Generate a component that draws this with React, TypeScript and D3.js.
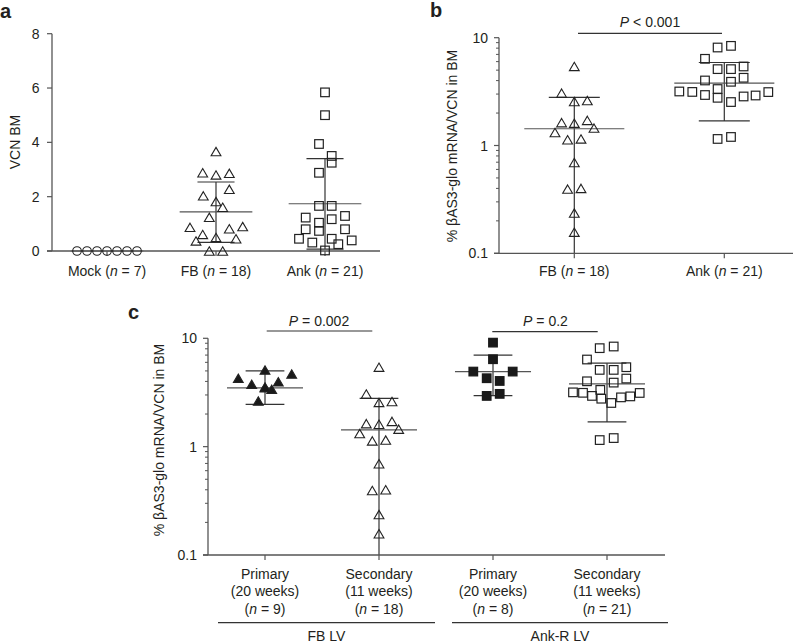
import React from "react";
import * as d3 from "d3";

// ---------- DATA ----------
// Panel a: VCN in bone marrow
const panelACategories = ["Mock", "FB", "Ank"];
const panelANs = [7, 18, 21];
const mockVCN = [0, 0, 0, 0, 0, 0, 0];
const fbVCN = [3.66, 2.88, 2.8, 2.86, 2.27, 2.03, 1.82, 1.61, 1.24, 0.87, 0.82, 0.9, 0.61, 0.37, 0.5, 0.45, 0, 0];
const ankVCN = [5.84, 5.0, 3.94, 3.5, 3.25, 2.88, 1.66, 1.66, 1.23, 1.04, 1.17, 1.29, 0.8, 0.74, 0.8, 0.45, 0.31, 0.45, 0.25, 0.39, 0.02];
const panelAMeans = [0, 1.44, 1.74];
const panelASdLow = [0, 0.32, 0.07];
const panelASdHigh = [0, 2.54, 3.4];
const panelATicks = [0, 2, 4, 6, 8];

// Panel b: % βAS3-glo mRNA / VCN
const panelBCategories = ["FB", "Ank"];
const panelBNs = [18, 21];
const fbRatio = [5.41, 3.06, 2.56, 2.61, 1.63, 1.61, 1.71, 1.45, 1.32, 1.13, 1.15, 0.695, 0.394, 0.4, 0.236, 0.157];
const ankRatio = [8.11, 8.4, 6.37, 5.11, 5.11, 5.41, 4.01, 3.9, 4.25, 3.17, 3.14, 2.94, 3.34, 2.77, 2.53, 2.85, 2.91, 3.13, 1.15, 1.2];
const panelBMeans = [1.43, 3.79];
const panelBSdLow = [0.07, 1.69];
const panelBSdHigh = [2.79, 5.89];
const panelBPLabel = "< 0.001";

// Panel c
const panelCCategories = ["FB-Primary", "FB-Secondary", "Ank-Primary", "Ank-Secondary"];
const panelCLine1 = ["Primary", "Secondary", "Primary", "Secondary"];
const panelCLine2 = ["(20 weeks)", "(11 weeks)", "(20 weeks)", "(11 weeks)"];
const panelCNs = [9, 18, 8, 21];
const panelCGroups = ["FB LV", "Ank-R LV"];
const fbPrimary = [4.27, 5.09, 4.68, 3.76, 3.97, 3.5, 3.38, 2.64, 3.55];
const ankPrimary = [9.12, 6.41, 4.93, 4.93, 4.28, 4.04, 2.94, 3.07];
const panelCMeans = [3.48, 1.43, 4.93, 3.79];
const panelCSdLow = [2.46, 0.07, 2.96, 1.69];
const panelCSdHigh = [5.0, 2.79, 6.98, 5.89];
const panelCPLabels = ["= 0.002", "= 0.2"];

// ---------- LAYOUT (jitter offsets in px, not data) ----------
const mockJitter = [-30, -20, -10, 0, 10, 20, 30];
const fbVCNJitter = [0, -13.3, 0, 13.3, 13.3, -12.7, 0, 6.7, -6.7, -26, 13.3, 26.7, -13.3, -20, 0, 20, -6.7, 6.7];
const ankVCNJitter = [0, 0, -6, 6.7, 6.7, -6, -6, 6.7, -19.3, -6, 6.7, 20, -19.3, -6, 20, -26, -12.7, 6.7, 13.3, 26.7, 0];
const fbRatioJitter = [0, -12.7, 0, 13, -12.7, 0, 13, 19.7, -19.3, -6.7, 6.7, 0, -6.7, 6.7, 0, 0];
const ankRatioJitterB = [-6.7, 6.7, -19.3, -6.7, 6.7, 19.3, -19.3, 6.7, 19.3, -45, -32, -19.3, -6.7, -6.7, 6.7, 19.3, 31.3, 44, -6.7, 6.7];
const ankRatioJitterC = [-7.3, 6.7, -20, -7.3, 6.7, 19.3, -20, 6.7, 19.3, -34, -24, -15, -6.7, -5.7, 4.3, 14, 23.3, 32.7, -7.3, 6.7];
const fbPrimaryJitter = [-26.7, 0, 26.7, -13.3, 13.3, 0, 6.7, -6.7, 0];
const ankPrimaryJitter = [0, 0, -19.7, 19.7, -6.3, 6.7, -6.3, 6.7];

const FONT = "'Liberation Sans', Arial, Helvetica, sans-serif";
const TXT = "#231f20";
const LINE = "#333";
const AXIS = "#555";

type Shape = "circle" | "triangle" | "square";

function Marker({ x, y, shape, filled }: { x: number; y: number; shape: Shape; filled?: boolean }) {
  const fill = filled ? "#1a1a1a" : "none";
  const stroke = "#222";
  if (shape === "circle") return <circle cx={x} cy={y} r={4.3} fill={fill} stroke={stroke} strokeWidth={1.1} />;
  if (shape === "square") {
    const s = 8.6;
    return <rect x={x - s / 2} y={y - s / 2} width={s} height={s} fill={fill} stroke={filled ? "#1a1a1a" : stroke} strokeWidth={1.2} />;
  }
  const w = 4.9, h = 8.4;
  const p = `M${x},${y - h / 2}L${x + w},${y + h / 2}L${x - w},${y + h / 2}Z`;
  return <path d={p} fill={fill} stroke={stroke} strokeWidth={1.1} strokeLinejoin="miter" />;
}

function Summary({ cx, band, y, mean, lo, hi, yMin, yMax }: any) {
  const mw = band * 0.667 / 2;
  const sw = band * 0.34 / 2;
  const inRange = (v: number) => v >= yMin && v <= yMax;
  const clampY = (v: number) => (v < yMin ? y(yMin) : v > yMax ? y(yMax) : y(v));
  return (
    <g stroke={LINE} strokeWidth={1.2}>
      {hi > lo && <line x1={cx} x2={cx} y1={clampY(lo)} y2={clampY(hi)} />}
      {inRange(mean) && <line x1={cx - mw} x2={cx + mw} y1={y(mean)} y2={y(mean)} stroke="#555" />}
      {hi > lo && inRange(hi) && <line x1={cx - sw} x2={cx + sw} y1={y(hi)} y2={y(hi)} />}
      {hi > lo && inRange(lo) && <line x1={cx - sw} x2={cx + sw} y1={y(lo)} y2={y(lo)} />}
    </g>
  );
}

function LogAxis({ x, y, domain }: { x: number; y: any; domain: [number, number] }) {
  const majors = [0.1, 1, 10];
  const minors: number[] = [];
  [0.1, 1].forEach((d) => {
    for (let k = 2; k <= 9; k++) minors.push(d * k);
  });
  return (
    <g>
      <line x1={x} x2={x} y1={y(domain[0])} y2={y(domain[1])} stroke={AXIS} strokeWidth={1.3} />
      {majors.map((m) => (
        <g key={m}>
          <line x1={x - 5} x2={x} y1={y(m)} y2={y(m)} stroke={AXIS} strokeWidth={1.2} />
          <text x={x - 11} y={y(m)} dy="0.36em" textAnchor="end" fontSize={14} fill={TXT}>
            {m === 0.1 ? "0.1" : String(m)}
          </text>
        </g>
      ))}
      {minors.map((m) => (
        <line key={m} x1={x - 3} x2={x} y1={y(m)} y2={y(m)} stroke={AXIS} strokeWidth={1} />
      ))}
    </g>
  );
}

function NLabel({ x, y, n, prefix }: { x: number; y: number; n: number; prefix?: string }) {
  return (
    <text x={x} y={y} textAnchor="middle" fontSize={14} fill={TXT}>
      {prefix ? prefix + " (" : "("}
      <tspan fontStyle="italic">n</tspan>
      {" = " + n + ")"}
    </text>
  );
}

export default function App() {
  // ---- Panel a ----
  const aX = d3.scalePoint<string>().domain(panelACategories).range([107, 325]);
  const aY = d3.scaleLinear().domain([0, 8]).range([251, 33.7]);
  const aAxisX = 52;
  const aBand = aX.step();
  const aSeries: { vals: number[]; jit: number[]; shape: Shape }[] = [
    { vals: mockVCN, jit: mockJitter, shape: "circle" },
    { vals: fbVCN, jit: fbVCNJitter, shape: "triangle" },
    { vals: ankVCN, jit: ankVCNJitter, shape: "square" },
  ];

  // ---- Panel b ----
  const bX = d3.scalePoint<string>().domain(panelBCategories).range([574.3, 724.3]);
  const bY = d3.scaleLog().domain([0.1, 10]).range([253.3, 37.7]);
  const bAxisX = 499;
  const bBand = bX.step();
  const bSeries: { vals: number[]; jit: number[]; shape: Shape }[] = [
    { vals: fbRatio, jit: fbRatioJitter, shape: "triangle" },
    { vals: ankRatio, jit: ankRatioJitterB, shape: "square" },
  ];

  // ---- Panel c ----
  const cX = d3.scalePoint<string>().domain(panelCCategories).range([265, 607]);
  const cY = d3.scaleLog().domain([0.1, 10]).range([555, 338.3]);
  const cAxisX = 208;
  const cBand = cX.step();
  const cSeries: { vals: number[]; jit: number[]; shape: Shape; filled: boolean }[] = [
    { vals: fbPrimary, jit: fbPrimaryJitter, shape: "triangle", filled: true },
    { vals: fbRatio, jit: fbRatioJitter, shape: "triangle", filled: false },
    { vals: ankPrimary, jit: ankPrimaryJitter, shape: "square", filled: true },
    { vals: ankRatio, jit: ankRatioJitterC, shape: "square", filled: false },
  ];

  return (
    <svg
      width={800}
      height={644}
      style={{ position: "absolute", left: 0, top: 0, background: "#fff" }}
      fontFamily={FONT}
    >
      <rect width={800} height={644} fill="#fff" />

      {/* ================= Panel a ================= */}
      <text x={0} y={18} fontSize={20} fontWeight="bold" fill={TXT}>a</text>
      <text transform={`translate(20,142) rotate(-90)`} textAnchor="middle" fontSize={14} fill={TXT}>VCN BM</text>
      <line x1={aAxisX} x2={aAxisX} y1={aY(8)} y2={aY(0)} stroke={AXIS} strokeWidth={1.3} />
      {panelATicks.map((t) => (
        <g key={t}>
          <line x1={aAxisX - 5} x2={aAxisX} y1={aY(t)} y2={aY(t)} stroke={AXIS} strokeWidth={1.2} />
          <text x={aAxisX - 12.5} y={aY(t)} dy="0.36em" textAnchor="end" fontSize={14} fill={TXT}>{t}</text>
        </g>
      ))}
      {panelACategories.map((c, i) => (
        <Summary key={c} cx={aX(c)} band={aBand} y={aY} mean={panelAMeans[i]} lo={panelASdLow[i]} hi={panelASdHigh[i]} yMin={0} yMax={8} />
      ))}
      <line x1={aAxisX - 5} x2={380} y1={aY(0)} y2={aY(0)} stroke={AXIS} strokeWidth={1.3} />
      {panelACategories.map((c) => (
        <line key={c} x1={aX(c)} x2={aX(c)} y1={aY(0)} y2={aY(0) + 5} stroke={AXIS} strokeWidth={1.2} />
      ))}
      {aSeries.map((s, i) =>
        s.vals.map((v, j) => (
          <Marker key={`a${i}-${j}`} x={(aX(panelACategories[i]) as number) + s.jit[j]} y={aY(v)} shape={s.shape} />
        ))
      )}
      {panelACategories.map((c, i) => (
        <NLabel key={c} x={aX(c) as number} y={275.5} n={panelANs[i]} prefix={c} />
      ))}

      {/* ================= Panel b ================= */}
      <text x={430} y={17} fontSize={20} fontWeight="bold" fill={TXT}>b</text>
      <text transform={`translate(457,146) rotate(-90)`} textAnchor="middle" fontSize={14} fill={TXT}>
        % βAS3-glo mRNA/VCN in BM
      </text>
      <LogAxis x={bAxisX} y={bY} domain={[0.1, 10]} />
      {panelBCategories.map((c, i) => (
        <Summary key={c} cx={bX(c)} band={bBand} y={bY} mean={panelBMeans[i]} lo={panelBSdLow[i]} hi={panelBSdHigh[i]} yMin={0.1} yMax={10} />
      ))}
      <line x1={bAxisX - 5} x2={793} y1={bY(0.1)} y2={bY(0.1)} stroke={AXIS} strokeWidth={1.3} />
      {panelBCategories.map((c) => (
        <line key={c} x1={bX(c)} x2={bX(c)} y1={bY(0.1)} y2={bY(0.1) + 5} stroke={AXIS} strokeWidth={1.2} />
      ))}
      {bSeries.map((s, i) =>
        s.vals.map((v, j) => (
          <Marker key={`b${i}-${j}`} x={(bX(panelBCategories[i]) as number) + s.jit[j]} y={bY(v)} shape={s.shape} />
        ))
      )}
      {panelBCategories.map((c, i) => (
        <NLabel key={c} x={bX(c) as number} y={276} n={panelBNs[i]} prefix={c} />
      ))}
      <line x1={578} x2={722} y1={33.3} y2={33.3} stroke={LINE} strokeWidth={1.2} />
      <text x={650} y={27} textAnchor="middle" fontSize={14} fill={TXT}>
        <tspan fontStyle="italic">P</tspan> {panelBPLabel}
      </text>

      {/* ================= Panel c ================= */}
      <text x={128} y={319} fontSize={20} fontWeight="bold" fill={TXT}>c</text>
      <text transform={`translate(164,440) rotate(-90)`} textAnchor="middle" fontSize={14} fill={TXT}>
        % βAS3-glo mRNA/VCN in BM
      </text>
      <LogAxis x={cAxisX} y={cY} domain={[0.1, 10]} />
      {panelCCategories.map((c, i) => (
        <Summary key={c} cx={cX(c)} band={cBand} y={cY} mean={panelCMeans[i]} lo={panelCSdLow[i]} hi={panelCSdHigh[i]} yMin={0.1} yMax={10} />
      ))}
      <line x1={cAxisX - 5} x2={665} y1={cY(0.1)} y2={cY(0.1)} stroke={AXIS} strokeWidth={1.3} />
      {panelCCategories.map((c) => (
        <line key={c} x1={cX(c)} x2={cX(c)} y1={cY(0.1)} y2={cY(0.1) + 5} stroke={AXIS} strokeWidth={1.2} />
      ))}
      {cSeries.map((s, i) =>
        s.vals.map((v, j) => (
          <Marker key={`c${i}-${j}`} x={(cX(panelCCategories[i]) as number) + s.jit[j]} y={cY(v)} shape={s.shape} filled={s.filled} />
        ))
      )}
      {panelCCategories.map((c, i) => (
        <g key={c}>
          <text x={cX(c)} y={578.5} textAnchor="middle" fontSize={14} fill={TXT}>{panelCLine1[i]}</text>
          <text x={cX(c)} y={596} textAnchor="middle" fontSize={14} fill={TXT}>{panelCLine2[i]}</text>
          <NLabel x={cX(c) as number} y={613.5} n={panelCNs[i]} />
        </g>
      ))}
      {/* group lines */}
      <line x1={218} x2={435} y1={622.7} y2={622.7} stroke={LINE} strokeWidth={1.2} />
      <line x1={452} x2={668} y1={622.7} y2={622.7} stroke={LINE} strokeWidth={1.2} />
      <text x={326.5} y={641} textAnchor="middle" fontSize={14} fill={TXT}>{panelCGroups[0]}</text>
      <text x={560} y={641} textAnchor="middle" fontSize={14} fill={TXT}>{panelCGroups[1]}</text>
      {/* p brackets */}
      <line x1={266.7} x2={372.3} y1={331} y2={331} stroke={LINE} strokeWidth={1.2} />
      <text x={319} y={326} textAnchor="middle" fontSize={14} fill={TXT}>
        <tspan fontStyle="italic">P</tspan> {panelCPLabels[0]}
      </text>
      <line x1={492.3} x2={597.7} y1={331.7} y2={331.7} stroke={LINE} strokeWidth={1.2} />
      <text x={545.5} y={326} textAnchor="middle" fontSize={14} fill={TXT}>
        <tspan fontStyle="italic">P</tspan> {panelCPLabels[1]}
      </text>
    </svg>
  );
}
